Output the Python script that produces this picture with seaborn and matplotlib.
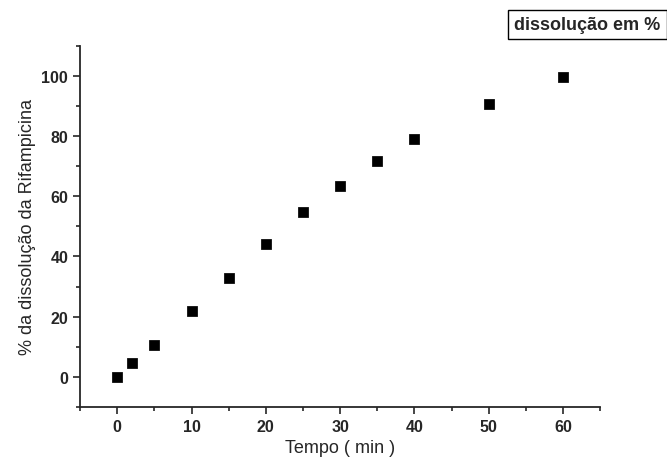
import pandas as pd
import matplotlib.pyplot as plt
import seaborn as sns

tempo = [0, 2, 5, 10, 15, 20, 25, 30, 35, 40, 50, 60]
dissolucao = [0, 4.7, 10.7, 21.7, 33.0, 44.3, 54.7, 63.3, 71.7, 79.0, 90.7, 99.7]

df = pd.DataFrame({'Tempo': tempo, 'Diss': dissolucao})

sns.set_style('ticks')
plt.rcParams['font.family'] = ['Liberation Sans', 'DejaVu Sans']

fig = plt.figure(figsize=(6.67, 4.64), dpi=100)
ax = fig.add_axes([0.12, 0.121, 0.78, 0.778])
sns.scatterplot(data=df, x='Tempo', y='Diss', marker='s', s=45,
                color='black', edgecolor='black', ax=ax)

ax.set_xlim(-5, 65)
ax.set_ylim(-10, 110)
ax.set_xticks(range(0, 61, 10))
ax.set_xticks(range(-5, 66, 5), minor=True)
ax.set_yticks(range(0, 101, 20))
ax.set_yticks(range(-10, 111, 10), minor=True)
ax.tick_params(which='major', length=5, width=1.2, labelsize=11.5, direction='out')
ax.tick_params(which='minor', length=3, width=1.2, direction='out')
for lab in ax.get_xticklabels() + ax.get_yticklabels():
    lab.set_fontweight('bold')
for s in ['left', 'bottom']:
    ax.spines[s].set_linewidth(1.3)
sns.despine(ax=ax)

ax.set_xlabel('Tempo ( min )', fontsize=13)
ax.set_ylabel('% da dissolução da Rifampicina', fontsize=13)

fig.text(0.99, 0.945, 'dissolução em %', ha='right', va='center',
         fontsize=13, fontweight='bold',
         bbox=dict(boxstyle='square,pad=0.35', facecolor='white',
                   edgecolor='black', linewidth=1))

fig.savefig('out.png', dpi=100)
